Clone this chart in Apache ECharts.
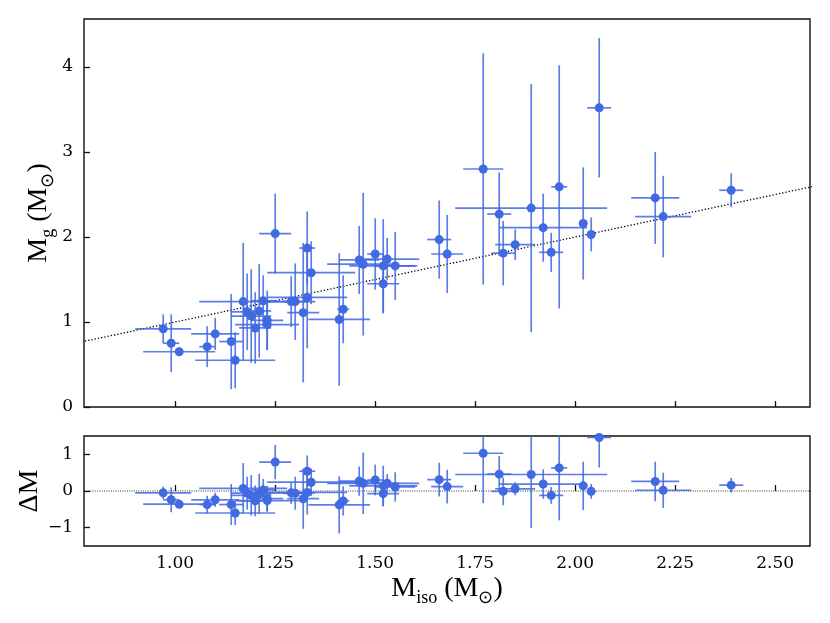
<!DOCTYPE html>
<html><head><meta charset="utf-8">
<script src="https://cdn.jsdelivr.net/npm/echarts@6/dist/echarts.min.js"></script>
<style>html,body{margin:0;padding:0;background:#fff}#c{width:830px;height:623px}</style>
</head><body><div id="c"></div>
<script>
// Isochrone mass (x), its error, gravity mass (y), its error, residual ΔM
const mIso    = [0.970,0.990,1.010,1.080,1.100,1.140,1.150,1.170,1.180,1.190,1.200,1.210,1.220,1.230,1.230,1.250,1.290,1.300,1.320,1.330,1.330,1.340,1.410,1.420,1.460,1.470,1.500,1.520,1.520,1.530,1.550,1.660,1.680,1.770,1.810,1.820,1.850,1.890,1.920,1.940,1.960,2.020,2.040,2.060,2.200,2.220,2.390];
const mIsoErr = [0.070,0.020,0.090,0.020,0.060,0.030,0.100,0.110,0.040,0.050,0.040,0.030,0.030,0.040,0.080,0.040,0.060,0.030,0.040,0.020,0.100,0.110,0.077,0.015,0.050,0.090,0.020,0.085,0.040,0.080,0.050,0.030,0.040,0.050,0.030,0.030,0.050,0.190,0.110,0.030,0.020,0.010,0.010,0.030,0.060,0.070,0.030];
const mG      = [0.92,0.75,0.65,0.71,0.86,0.77,0.55,1.24,1.12,1.07,0.93,1.13,1.25,1.02,0.97,2.04,1.24,1.24,1.11,1.87,1.29,1.58,1.03,1.15,1.73,1.68,1.80,1.66,1.45,1.74,1.66,1.97,1.80,2.80,2.27,1.81,1.91,2.34,2.11,1.82,2.59,2.16,2.03,3.52,2.46,2.24,2.55];
const mGErr   = [0.17,0.34,0.05,0.24,0.19,0.56,0.33,0.69,0.45,0.55,0.42,0.55,0.30,0.35,0.30,0.47,0.30,0.45,0.82,0.43,0.60,0.37,0.78,0.40,0.40,0.84,0.42,0.55,0.35,0.25,0.40,0.46,0.46,1.36,0.49,0.38,0.18,1.46,0.40,0.23,1.43,0.66,0.20,0.82,0.54,0.48,0.20];
const dM      = [-0.05,-0.24,-0.36,-0.37,-0.24,-0.37,-0.60,0.07,-0.06,-0.12,-0.27,-0.08,0.03,-0.21,-0.26,0.79,-0.05,-0.06,-0.21,0.54,-0.04,0.24,-0.38,-0.27,0.27,0.21,0.30,0.14,-0.07,0.21,0.11,0.31,0.12,1.03,0.46,-0.01,0.06,0.45,0.19,-0.12,0.63,0.14,-0.01,1.46,0.26,0.02,0.16];

const xTicks = [1.00,1.25,1.50,1.75,2.00,2.25,2.50];
const yTicksTop = [0,1,2,3,4];
const yTicksBottom = [-1,0,1];
const oneToOneX = [0.5,3.0];
const oneToOneY = [0.5,3.0];
const zeroX = [0.5,3.0];
const zeroY = [0,0];

const BLUE = '#4169E1';
const BAR = 'rgba(65,105,225,0.85)';

function errRender(params, api){
  const x=api.value(0), y=api.value(1), ex=api.value(2), ey=api.value(3);
  const l=api.coord([x-ex,y]), r=api.coord([x+ex,y]);
  const t=api.coord([x,y+ey]), b=api.coord([x,y-ey]);
  const style={stroke:BAR, lineWidth:1.7, fill:null};
  return {type:'group', children:[
    {type:'line', shape:{x1:l[0],y1:l[1],x2:r[0],y2:r[1]}, style:style},
    {type:'line', shape:{x1:t[0],y1:t[1],x2:b[0],y2:b[1]}, style:style}
  ]};
}

const topErr = mIso.map((v,i)=>[v, mG[i], mIsoErr[i], mGErr[i]]);
const botErr = mIso.map((v,i)=>[v, dM[i], mIsoErr[i], mGErr[i]]);
const topPts = mIso.map((v,i)=>[v, mG[i]]);
const botPts = mIso.map((v,i)=>[v, dM[i]]);

const tickFont = {fontFamily:'DejaVu Serif', fontSize:17, color:'#000'};
const nameRich = {
  m:{fontFamily:'Liberation Serif', fontSize:28, color:'#000', lineHeight:36},
  s:{fontFamily:'Liberation Serif', fontSize:18, color:'#000', verticalAlign:'bottom', lineHeight:21}
};
const minusFmt = v => (v<0 ? '\u2212'+Math.abs(v) : String(v));

const XMIN=0.772, XMAX=2.587;

const chart = echarts.init(document.getElementById('c'), null, {renderer:'canvas'});
chart.setOption({
  animation:false,
  backgroundColor:'#fff',
  grid:[
    {left:84, top:19, width:726, height:388, show:true, borderColor:'#111', borderWidth:1.4, backgroundColor:'transparent'},
    {left:84, top:436, width:726, height:110, show:true, borderColor:'#111', borderWidth:1.4, backgroundColor:'transparent'}
  ],
  xAxis:[
    {gridIndex:0, type:'value', min:XMIN, max:XMAX,
     axisLine:{show:false},
     axisTick:{show:true, inside:true, length:6, customValues:xTicks, lineStyle:{color:'#111', width:1.3}},
     axisLabel:{show:false}, splitLine:{show:false}},
    {gridIndex:1, type:'value', min:XMIN, max:XMAX,
     axisLine:{show:false},
     axisTick:{show:true, inside:true, length:6, customValues:xTicks, lineStyle:{color:'#111', width:1.3}},
     axisLabel:Object.assign({customValues:xTicks, margin:9, formatter:v=>v.toFixed(2)}, tickFont),
     splitLine:{show:false},
     name:'{m|M}{s|iso}{m| (M}{s|\u2299}{m|)}', nameLocation:'middle', nameGap:25,
     nameTextStyle:{rich:nameRich}}
  ],
  yAxis:[
    {gridIndex:0, type:'value', min:0, max:4.565,
     axisLine:{show:false},
     axisTick:{show:true, inside:true, length:6, customValues:yTicksTop, lineStyle:{color:'#111', width:1.3}},
     axisLabel:Object.assign({customValues:yTicksTop, margin:11, formatter:minusFmt}, tickFont),
     splitLine:{show:false},
     name:'{m|M}{s|g}{m| (M}{s|\u2299}{m|)}', nameLocation:'middle', nameGap:27, nameRotate:90,
     nameMoveOverlap:false,
     nameTextStyle:{rich:nameRich}},
    {gridIndex:1, type:'value', min:-1.5, max:1.5,
     axisLine:{show:false},
     axisTick:{show:true, inside:true, length:6, customValues:yTicksBottom, lineStyle:{color:'#111', width:1.3}},
     axisLabel:Object.assign({customValues:yTicksBottom, margin:11, formatter:minusFmt}, tickFont),
     splitLine:{show:false},
     name:'{m|\u0394M}', nameLocation:'middle', nameGap:36, nameRotate:90,
     nameMoveOverlap:false,
     nameTextStyle:{rich:nameRich}}
  ],
  series:[
    {type:'line', xAxisIndex:0, yAxisIndex:0, data:oneToOneX.map((v,i)=>[v,oneToOneY[i]]),
     showSymbol:false, symbol:'none', clip:true, lineStyle:{color:'#000', width:1.3, type:[1.3,2]}, z:1},
    {type:'custom', xAxisIndex:0, yAxisIndex:0, data:topErr, renderItem:errRender, clip:true,
     encode:{x:0, y:1}, z:2},
    {type:'scatter', xAxisIndex:0, yAxisIndex:0, data:topPts, symbolSize:9,
     itemStyle:{color:BLUE, opacity:1}, clip:true, z:3},
    {type:'line', xAxisIndex:1, yAxisIndex:1, data:zeroX.map((v,i)=>[v,zeroY[i]]),
     showSymbol:false, symbol:'none', clip:true, lineStyle:{color:'#000', width:0.8, type:[1,1.3]}, z:1},
    {type:'custom', xAxisIndex:1, yAxisIndex:1, data:botErr, renderItem:errRender, clip:true,
     encode:{x:0, y:1}, z:2},
    {type:'scatter', xAxisIndex:1, yAxisIndex:1, data:botPts, symbolSize:9,
     itemStyle:{color:BLUE, opacity:1}, clip:true, z:3}
  ]
});
</script></body></html>
